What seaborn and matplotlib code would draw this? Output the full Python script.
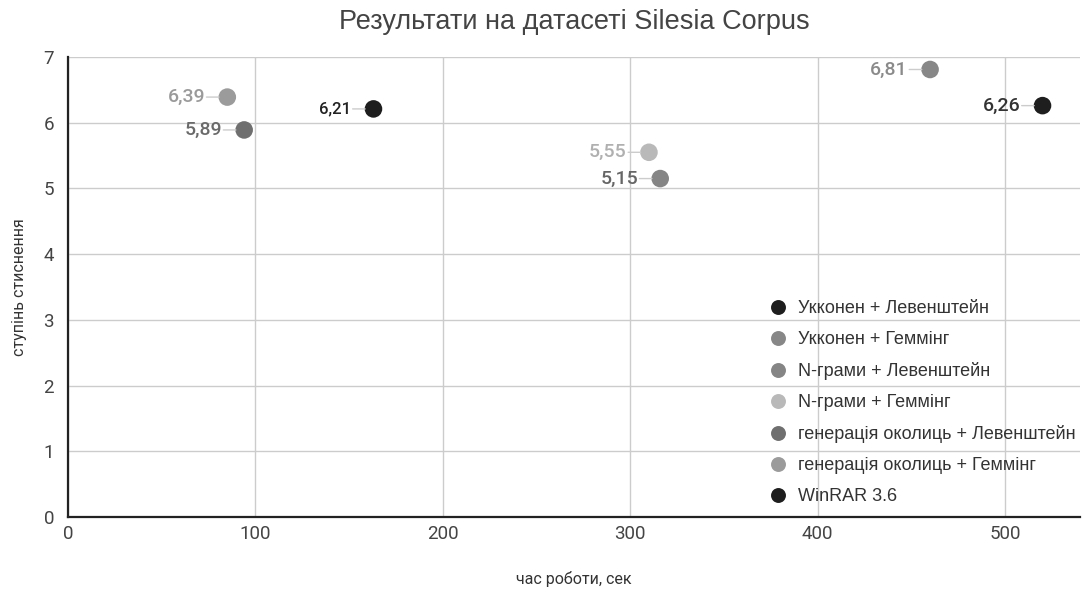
import pandas as pd
import seaborn as sns
import matplotlib.pyplot as plt

methods = ["Укконен + Левенштейн", "Укконен + Геммінг", "N-грами + Левенштейн", "N-грами + Геммінг",
           "генерація околиць + Левенштейн", "генерація околиць + Геммінг", "WinRAR 3.6"]
time_sec = [520, 460, 316, 310, 94, 85, 163]
ratio = [6.26, 6.81, 5.15, 5.55, 5.89, 6.39, 6.21]
colors = ["#1e1e1e", "#878787", "#858585", "#b9b9b9", "#6f6f6f", "#9b9b9b", "#1e1e1e"]
label_colors = ["#333333", "#8a8a8a", "#666666", "#b0b0b0", "#6a6a6a", "#9a9a9a", "#222222"]

df = pd.DataFrame({"method": methods, "time": time_sec, "ratio": ratio})

sns.set_style("whitegrid")
plt.rcParams['font.family'] = ['Roboto', 'DejaVu Sans']

fig = plt.figure(figsize=(10.84, 5.94), dpi=100)
ax = fig.add_axes([68 / 1084, 1 - 517 / 594, (1080 - 68) / 1084, (517 - 57) / 594])

sns.scatterplot(data=df, x="time", y="ratio", hue="method", palette=colors, s=160,
                edgecolor="none", ax=ax, zorder=3, clip_on=False)

# value labels to the left of each point, with a short leader line
for t, r, c, fs in zip(time_sec, ratio, label_colors, [14, 14, 14, 14, 14, 14, 12]):
    ax.annotate(f"{r:.2f}".replace(".", ","), xy=(t, r), xytext=(-16, 0), textcoords="offset points",
                ha="right", va="center", fontsize=fs, color=c, fontweight="medium")
    ax.annotate("", xy=(t, r), xytext=(-15, 0), textcoords="offset points",
                arrowprops=dict(arrowstyle="-", color="#cccccc", lw=1, shrinkA=0, shrinkB=6))

ax.set_xlim(0, 540)
ax.set_ylim(0, 7)
ax.set_xticks([0, 100, 200, 300, 400, 500])
ax.set_yticks(range(0, 8))
ax.grid(True, color="#cccccc", linewidth=1)
for s in ["top", "right"]:
    ax.spines[s].set_visible(False)
for s in ["left", "bottom"]:
    ax.spines[s].set_color("#222222")
    ax.spines[s].set_linewidth(1.6)
ax.tick_params(axis="x", labelsize=13.5, colors="#444444", length=0, pad=6)
ax.tick_params(axis="y", labelsize=13.5, colors="#444444", length=0, pad=10)

ax.set_xlabel("час роботи, сек", fontsize=11.5, color="#333333", labelpad=20)
ax.set_ylabel("ступінь стиснення", fontsize=11.5, color="#333333", labelpad=12)
ax.set_title("Результати на датасеті Silesia Corpus", fontsize=19.5, color="#444444", pad=20,
             family=["Liberation Sans", "DejaVu Sans"])

leg = ax.legend(loc="lower right", bbox_to_anchor=(1.012, -0.01), frameon=False,
                labelspacing=0.78, handletextpad=0.1, markerscale=0.85,
                prop={"family": ["Liberation Sans", "DejaVu Sans"], "size": 13})
for txt in leg.get_texts():
    txt.set_color("#333333")

fig.savefig("out.png", dpi=100)
